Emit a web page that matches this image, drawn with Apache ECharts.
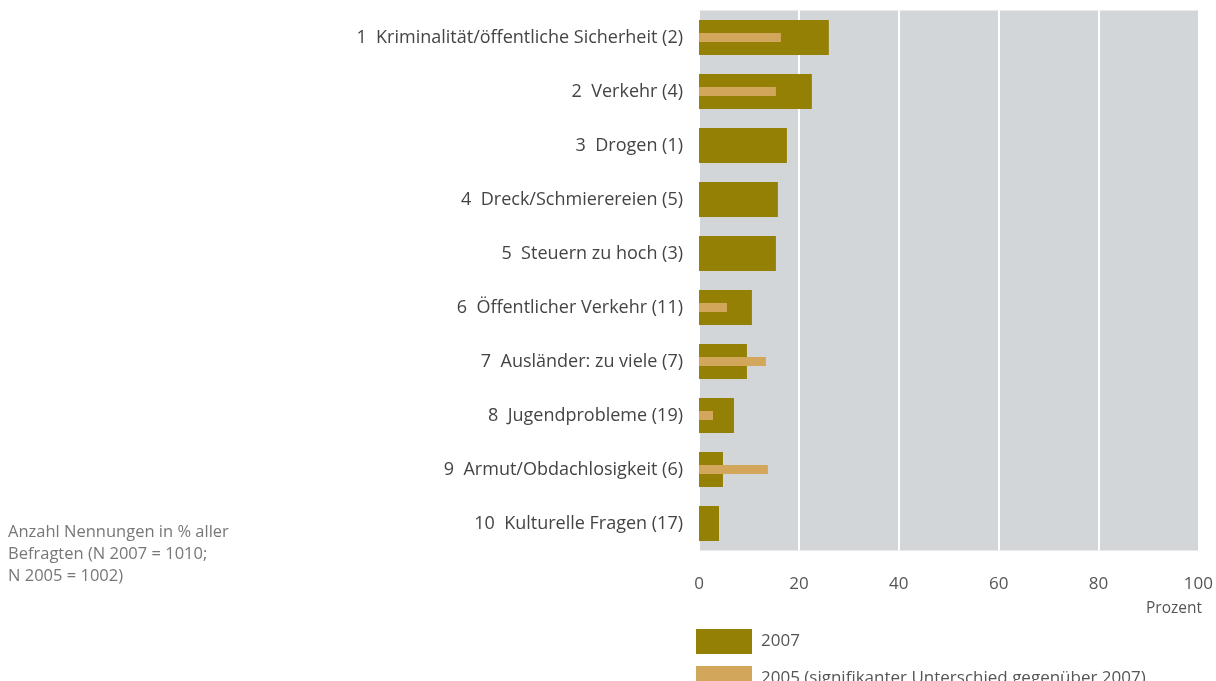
<!DOCTYPE html>
<html>
<head>
<meta charset="utf-8">
<script src="https://cdn.jsdelivr.net/npm/echarts@6/dist/echarts.min.js"></script>
<style>
  html, body { margin: 0; padding: 0; background: #fff; }
  #chart { width: 1216px; height: 681px; }
</style>
</head>
<body>
<div id="chart"></div>
<script>
// Kategorien (Rang, Thema, Rang 2005 in Klammern)
const categories = [
  '1  Kriminalität/öffentliche Sicherheit (2)',
  '2  Verkehr (4)',
  '3  Drogen (1)',
  '4  Dreck/Schmierereien (5)',
  '5  Steuern zu hoch (3)',
  '6  Öffentlicher Verkehr (11)',
  '7  Ausländer: zu viele (7)',
  '8  Jugendprobleme (19)',
  '9  Armut/Obdachlosigkeit (6)',
  '10  Kulturelle Fragen (17)'
]
const values2007 = [26.0, 22.6, 17.6, 15.8, 15.4, 10.6, 9.6, 7.0, 4.8, 4.0]
// nur signifikante Unterschiede
const values2005 = [16.4, 15.4, null, null, null, 5.6, 13.4, 2.8, 13.8, null]
const xTicks = [0, 20, 40, 60, 80, 100]

const name2007 = '2007'
const name2005 = '2005 (signifikanter Unterschied gegenüber 2007)'

const font = '"Open Sans", "Noto Sans", sans-serif'

function legendAt (name, top) {
  return {
    left: 691,
    top: top,
    itemWidth: 56,
    itemHeight: 25,
    itemGap: 0,
    icon: 'rect',
    textStyle: { fontSize: 17, color: '#555', fontFamily: font, padding: [0, 0, 0, 4] },
    data: [name]
  }
}

var myChart = echarts.init(document.getElementById('chart'))
myChart.setOption({
  animation: false,
  textStyle: { fontFamily: font },
  grid: {
    left: 699,
    top: 10.5,
    width: 500,
    height: 540,
    show: true,
    backgroundColor: '#d3d6d9',
    borderWidth: 0
  },
  legend: [legendAt(name2007, 624), legendAt(name2005, 661)],
  xAxis: {
    type: 'value',
    min: xTicks[0],
    max: xTicks[xTicks.length - 1],
    interval: 20,
    axisLine: { show: false },
    axisTick: { show: false },
    axisLabel: { color: '#555', fontSize: 17, margin: 25, fontFamily: font },
    splitLine: { show: true, lineStyle: { color: '#ffffff', width: 2 } }
  },
  yAxis: [
    {
      type: 'category',
      data: categories,
      inverse: true,
      axisLine: { show: false },
      axisTick: { show: false },
      axisLabel: { color: '#444', fontSize: 18, margin: 16, fontFamily: font }
    },
    {
      type: 'category',
      data: categories,
      inverse: true,
      show: false
    }
  ],
  graphic: [
    {
      type: 'text',
      left: 8,
      top: 521,
      style: {
        text: 'Anzahl Nennungen in % aller\nBefragten (N 2007 = 1010;\nN 2005 = 1002)',
        fill: '#777',
        fontSize: 16.5,
        lineHeight: 22,
        fontFamily: font
      }
    },
    {
      type: 'text',
      right: 14,
      top: 601,
      style: {
        text: 'Prozent',
        fill: '#555',
        fontSize: 15.5,
        fontFamily: font
      }
    }
  ],
  series: [
    {
      name: name2007,
      type: 'bar',
      yAxisIndex: 0,
      barWidth: 35,
      itemStyle: { color: '#958006' },
      data: values2007
    },
    {
      name: name2005,
      type: 'bar',
      yAxisIndex: 1,
      barWidth: 9,
      itemStyle: { color: '#d2a75c' },
      data: values2005
    }
  ]
})
</script>
</body>
</html>
